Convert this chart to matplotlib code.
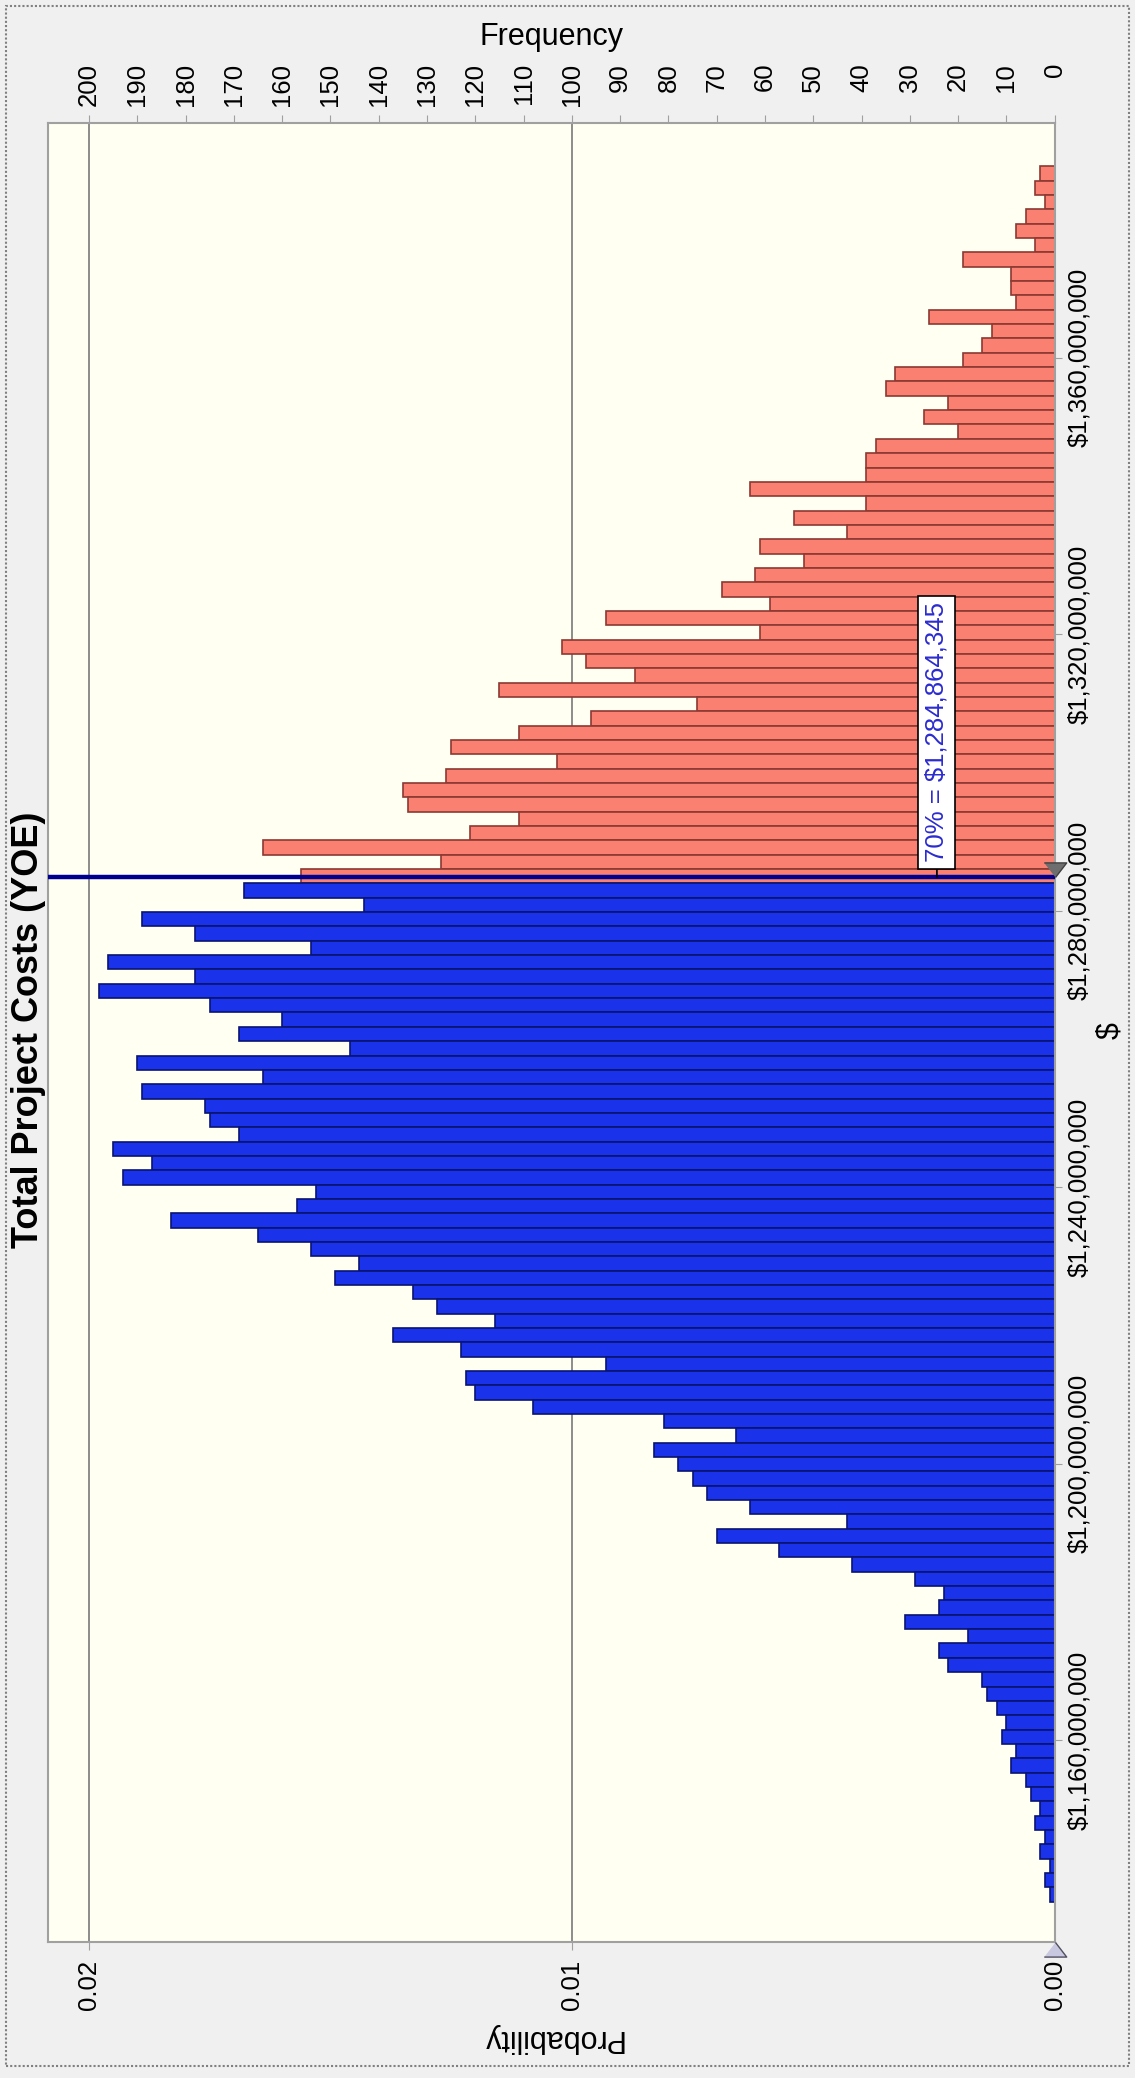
import numpy as np
import matplotlib
matplotlib.use('Agg')
import matplotlib.pyplot as plt
import matplotlib.ticker as ticker
from matplotlib.patches import Rectangle

plt.rcParams['font.family'] = ['Liberation Sans', 'DejaVu Sans']

# ---- simulation output (10,000 trials) ----
n_trials = 10000
p70 = 1284864345            # 70th percentile of total cost
bin_top = 1387.7e6          # upper edge of the highest bin
bin_width = 2.075e6

# frequency per bin, highest-cost bin first
freq = [3, 4, 2, 6, 8, 4, 19, 9, 9, 8,
        26, 13, 15, 19, 33, 35, 22, 27, 20, 37,
        39, 39, 63, 39, 54, 43, 61, 52, 62, 69,
        59, 93, 61, 102, 97, 87, 115, 74, 96, 111,
        125, 103, 126, 135, 134, 111, 121, 164, 127, 156,
        168, 143, 189, 178, 154, 196, 178, 198, 175, 160,
        169, 146, 190, 164, 189, 176, 175, 169, 195, 187,
        193, 153, 157, 183, 165, 154, 144, 149, 133, 128,
        116, 137, 123, 93, 122, 120, 108, 81, 66, 83,
        78, 75, 72, 63, 43, 70, 57, 42, 29, 23,
        24, 31, 18, 24, 22, 15, 14, 12, 10, 11,
        8, 9, 6, 5, 3, 4, 2, 3, 1, 2, 1]

freq_ticks = np.arange(0, 201, 10)
prob_ticks = [0.0, 0.01, 0.02]
cost_ticks = np.arange(1160e6, 1361e6, 40e6)
cost_lim = (1130.8e6, 1394.0e6)
freq_max = 208.4

c_in, c_in_edge = '#1A33EA', '#0A1470'
c_out, c_out_edge = '#FA8072', '#8B3A32'

fig = plt.figure(figsize=(11.35, 20.78), dpi=100)
fig.patch.set_facecolor('#F0F0F0')
ax = fig.add_axes([0.0427, 0.0655, 0.8865, 0.8754])
ax.set_facecolor('#FFFFF2')

# histogram bars, cost running up the page
lower = bin_top - bin_width * (np.arange(len(freq)) + 1)
inside = lower + bin_width <= p70
ax.barh(lower, freq, height=bin_width, align='edge',
        color=np.where(inside, c_in, c_out),
        edgecolor=np.where(inside, c_in_edge, c_out_edge),
        linewidth=1.2, zorder=2)

for p in prob_ticks[1:]:
    ax.axvline(p * n_trials, color='#8C8C8C', lw=1.4, zorder=1)

ax.axhline(p70, color='#000090', lw=3.2, zorder=4)

ax.set_xlim(freq_max, 0)
ax.set_ylim(*cost_lim)

for s in ax.spines.values():
    s.set_color('#A0A0A0')
    s.set_linewidth(1.5)

# frequency scale along the top
ax.xaxis.tick_top()
ax.set_xticks(freq_ticks)
ax.tick_params(axis='x', direction='out', length=5.8, width=0.8,
               color='#A0A0A0', labelsize=18.5, labelrotation=90, pad=37.4)
for t in ax.get_xticklabels():
    t.set_verticalalignment('top')

# cost scale on the right
ax.yaxis.tick_right()
ax.set_yticks(cost_ticks)
ax.yaxis.set_major_formatter(ticker.FuncFormatter(lambda v, _: f'${v:,.0f}'))
ax.tick_params(axis='y', direction='out', length=5, width=0.8,
               color='#A0A0A0', labelsize=18.5, labelrotation=90, pad=3.9)
for t in ax.get_yticklabels():
    t.set_verticalalignment('center')

# probability scale along the bottom
sec = ax.secondary_xaxis('bottom', functions=(lambda f: f / n_trials,
                                              lambda p: p * n_trials))
sec.set_xticks(prob_ticks)
sec.xaxis.set_major_formatter(ticker.FormatStrFormatter('%.2f'))
sec.tick_params(axis='x', direction='out', length=5.8, width=0.8,
                color='#A0A0A0', labelsize=18.5, labelrotation=90, pad=7.2)
for t in sec.get_xticklabels():
    t.set_verticalalignment('top')
sec.spines['bottom'].set_visible(False)

# certainty grabbers
ax.plot([0], [p70], marker=[(-1, 1.3), (1, 1.3), (0, 0)], markersize=21,
        color='#6E6E6E', markeredgecolor='#404040', clip_on=False, zorder=6)
ax.plot([0], [cost_lim[0]], marker=[(-1, -1.3), (1, -1.3), (0, 0)], markersize=21,
        color='#C8C8E0', markeredgecolor='#505060', clip_on=False, zorder=6)

ax.annotate('70% = $1,284,864,345', xy=(0.883, p70),
            xycoords=('axes fraction', 'data'),
            xytext=(0, 10.8), textcoords='offset points',
            rotation=90, ha='center', va='bottom', fontsize=18.5, color='#2B2BD0',
            bbox=dict(boxstyle='square,pad=0.25', fc='white', ec='black', lw=1.2),
            arrowprops=dict(arrowstyle='-', color='black', lw=1.2,
                            shrinkA=0, shrinkB=0),
            zorder=7)

fig.text(0.0247, 0.5043, 'Total Project Costs (YOE)', rotation=90,
         ha='center', va='center', fontsize=26, fontweight='bold')
fig.text(0.486, 0.9822, 'Frequency', ha='center', va='center', fontsize=22)
fig.text(0.486, 0.0193, 'Probability', rotation=180,
         ha='center', va='center', fontsize=22)
fig.text(0.978, 0.5043, '$', rotation=90, ha='center', va='center', fontsize=22)

# dotted frame around the whole window
fig.add_artist(Rectangle((0.0053, 0.0058), 0.9894, 0.9913, transform=fig.transFigure,
                         fill=False, ec='#808080', lw=1.5, ls=(0, (1, 1))))

fig.savefig('out.png', dpi=100, facecolor=fig.get_facecolor())
